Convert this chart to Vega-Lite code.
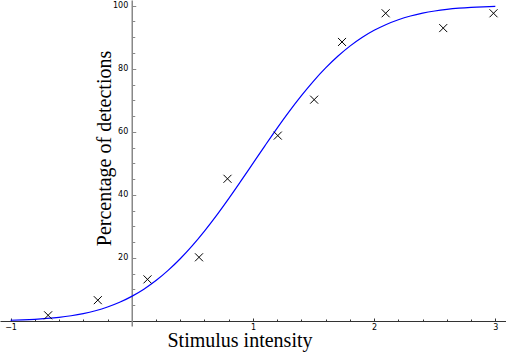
{
  "$schema": "https://vega.github.io/schema/vega-lite/v6.json",
  "width": 506,
  "height": 326,
  "autosize": "none",
  "padding": {"left": 0, "top": 0, "right": 0, "bottom": 26},
  "background": "white",
  "config": {"view": {"stroke": null}, "axis": {"grid": false}},
  "layer": [
    {
      "data": {"values": [
        {"x": -1.0, "y": 0.23}, {"x": -0.9, "y": 0.35}, {"x": -0.8, "y": 0.53}, {"x": -0.7, "y": 0.80},
        {"x": -0.6, "y": 1.16}, {"x": -0.5, "y": 1.67}, {"x": -0.4, "y": 2.35}, {"x": -0.3, "y": 3.26},
        {"x": -0.2, "y": 4.44}, {"x": -0.1, "y": 5.94}, {"x": 0.0, "y": 7.81}, {"x": 0.1, "y": 10.08},
        {"x": 0.2, "y": 12.82}, {"x": 0.3, "y": 16.04}, {"x": 0.4, "y": 19.74}, {"x": 0.5, "y": 23.91},
        {"x": 0.6, "y": 28.53}, {"x": 0.7, "y": 33.51}, {"x": 0.8, "y": 38.82}, {"x": 0.9, "y": 44.36},
        {"x": 1.0, "y": 50.0}, {"x": 1.1, "y": 55.64}, {"x": 1.2, "y": 61.18}, {"x": 1.3, "y": 66.49},
        {"x": 1.4, "y": 71.47}, {"x": 1.5, "y": 76.09}, {"x": 1.6, "y": 80.26}, {"x": 1.7, "y": 83.96},
        {"x": 1.8, "y": 87.18}, {"x": 1.9, "y": 89.92}, {"x": 2.0, "y": 92.19}, {"x": 2.1, "y": 94.06},
        {"x": 2.2, "y": 95.56}, {"x": 2.3, "y": 96.74}, {"x": 2.4, "y": 97.65}, {"x": 2.5, "y": 98.33},
        {"x": 2.6, "y": 98.84}, {"x": 2.7, "y": 99.21}, {"x": 2.8, "y": 99.47}, {"x": 2.9, "y": 99.65},
        {"x": 3.0, "y": 99.77}
      ]},
      "mark": {"type": "line", "color": "#0000ff", "strokeWidth": 1.2, "interpolate": "monotone"},
      "encoding": {
        "x": {
          "field": "x", "type": "quantitative",
          "scale": {"domain": [-1.087, 3.088], "nice": false, "zero": false},
          "axis": {
            "orient": "bottom", "offset": -5, "values": [-1, 1, 2, 3], "format": "d",
            "tickSize": -3, "tickColor": "#333", "domainColor": "#333", "domainWidth": 1,
            "labelPadding": 5, "labelFontSize": 8, "labelFont": "DejaVu Sans", "labelColor": "black",
            "labelFlush": false, "labelOverlap": false,
            "title": "Stimulus intensity", "titleFont": "Liberation Serif", "titleFontSize": 20,
            "titleFontWeight": "normal", "titleColor": "black", "titleX": 239.5, "titleY": 25,
            "titleAlign": "center", "titleBaseline": "alphabetic"
          }
        },
        "y": {
          "field": "y", "type": "quantitative",
          "scale": {"domain": [-1.59, 101.81], "nice": false, "zero": false},
          "axis": {
            "orient": "left", "offset": -131.75, "values": [20, 40, 60, 80, 100], "format": "d",
            "tickSize": -4, "tickColor": "#888", "domainColor": "#888", "domainWidth": 1.5,
            "labelPadding": 8, "labelFontSize": 8, "labelFont": "DejaVu Sans", "labelColor": "black",
            "labelFlush": false, "labelOverlap": false,
            "title": "Percentage of detections", "titleFont": "Liberation Serif", "titleFontSize": 20,
            "titleFontWeight": "normal", "titleColor": "black", "titleX": -21.75, "titleY": 148,
            "titleAngle": -90, "titleAlign": "center", "titleBaseline": "alphabetic"
          }
        }
      }
    },
    {
      "data": {"values": [
        {"x": -0.69, "y": 1.8}, {"x": -0.28, "y": 6.6}, {"x": 0.13, "y": 13.2}, {"x": 0.555, "y": 20.2},
        {"x": 0.79, "y": 45.1}, {"x": 1.205, "y": 58.8}, {"x": 1.505, "y": 70.2}, {"x": 1.735, "y": 88.5},
        {"x": 2.095, "y": 97.6}, {"x": 2.57, "y": 92.9}, {"x": 2.985, "y": 97.6}
      ]},
      "mark": {"type": "point", "shape": "M-1,-1L1,1M-1,1L1,-1", "filled": false, "color": "black", "strokeWidth": 1, "size": 64, "opacity": 1},
      "encoding": {
        "x": {
          "field": "x", "type": "quantitative",
          "axis": {
            "orient": "bottom", "offset": -5,
            "values": [-0.8, -0.6, -0.4, -0.2, 0.2, 0.4, 0.6, 0.8, 1.2, 1.4, 1.6, 1.8, 2.2, 2.4, 2.6, 2.8],
            "labels": false, "domain": false, "tickSize": -2, "tickColor": "#333", "title": null
          }
        },
        "y": {
          "field": "y", "type": "quantitative",
          "axis": {
            "orient": "left", "offset": -131.75,
            "values": [5, 10, 15, 25, 30, 35, 45, 50, 55, 65, 70, 75, 85, 90, 95],
            "labels": false, "domain": false, "tickSize": -3, "tickColor": "#888", "title": null
          }
        }
      }
    }
  ],
  "resolve": {"axis": {"x": "independent", "y": "independent"}}
}
